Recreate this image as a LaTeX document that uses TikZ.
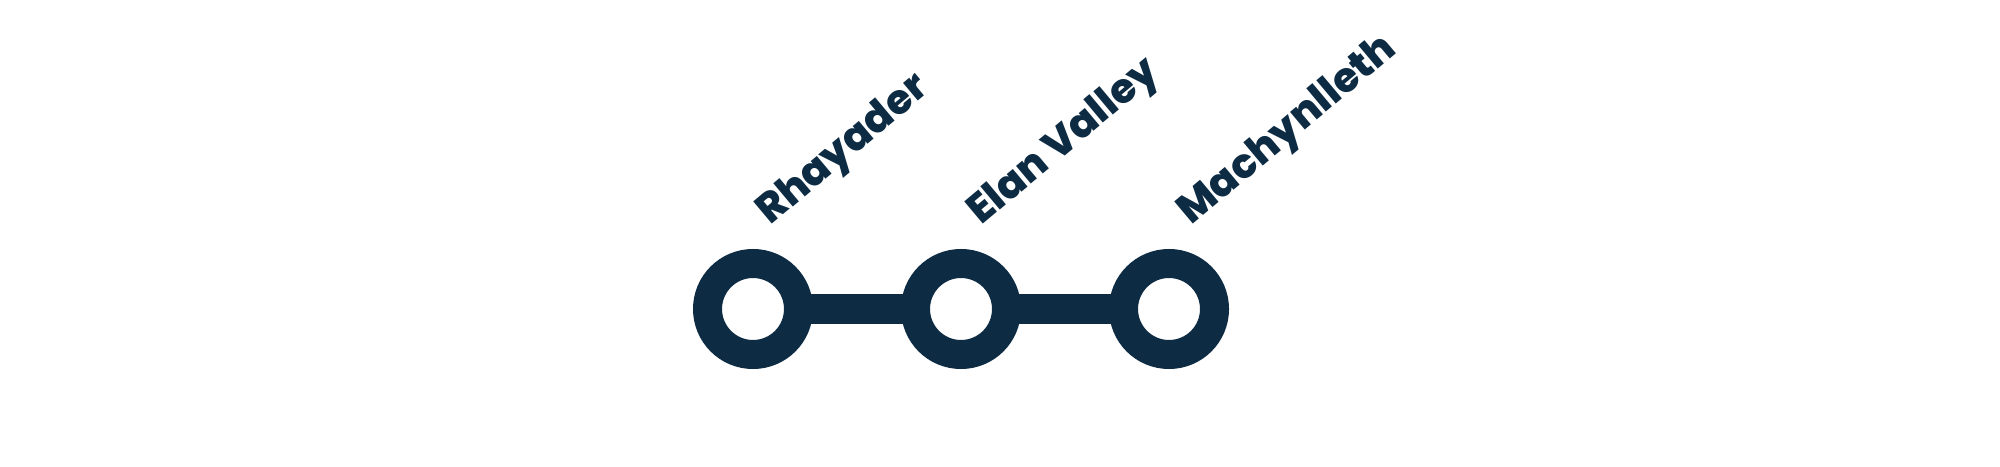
\documentclass[tikz,border=0pt]{standalone}
\usepackage{fontspec}
\newfontfamily\stationfont{Poppins ExtraBold}
\usetikzlibrary{backgrounds}
\definecolor{linenavy}{RGB}{13,43,67}

\begin{document}
\begin{tikzpicture}[x=0.5pt, y=0.5pt,
  station/.style={circle, draw=linenavy, fill=white, line width=14.5pt, minimum size=45.5pt, inner sep=0pt},
  stationname/.style={anchor=base west, rotate=40, inner sep=0pt, text=linenavy, font=\stationfont\fontsize{20.5}{20.5}\selectfont}]
\useasboundingbox (0,0) rectangle (2000,466);
% stations
\node [station] (rhayader) at (753,157) {};
\node [station] (elan) at (961,157) {};
\node [station] (mach) at (1169,157) {};
% track
\begin{scope}[on background layer]
\draw [linenavy, line width=15pt] (rhayader.center) -- (elan.center) -- (mach.center);
\end{scope}
% names
\node [stationname] (rhayadername) at (770,240) {Rhayader};
\node [stationname] (elanname) at (981,240) {Elan Valley};
\node [stationname] (machname) at (1191,240) {Machynlleth};
\end{tikzpicture}
\end{document}
